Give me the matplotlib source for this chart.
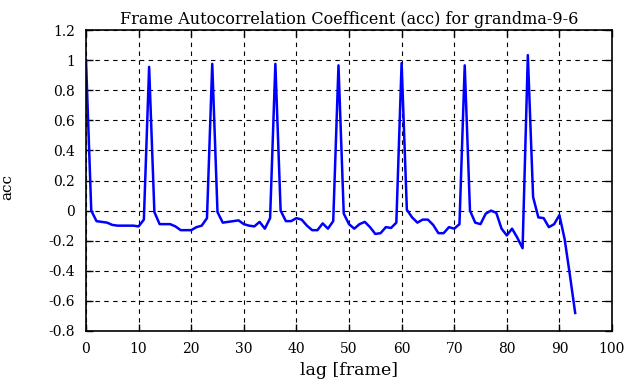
import matplotlib
matplotlib.use("Agg")
import matplotlib.pyplot as plt
import numpy as np

lags = list(range(94))
acc = [1.0, 0.0, -0.07, -0.075, -0.08, -0.095, -0.10, -0.10, -0.10, -0.10,
       -0.105, -0.06, 0.955, -0.01, -0.09, -0.09, -0.09, -0.105, -0.13, -0.13,
       -0.13, -0.11, -0.10, -0.05, 0.975, -0.01, -0.08, -0.075, -0.07, -0.065,
       -0.09, -0.10, -0.105, -0.075, -0.12, -0.05, 0.975, 0.0, -0.07, -0.07,
       -0.05, -0.06, -0.10, -0.13, -0.13, -0.085, -0.12, -0.07, 0.965, -0.02,
       -0.09, -0.12, -0.09, -0.075, -0.11, -0.155, -0.15, -0.11, -0.115, -0.08,
       0.98, 0.005, -0.045, -0.08, -0.06, -0.06, -0.095, -0.15, -0.15, -0.11,
       -0.12, -0.09, 0.965, 0.0, -0.08, -0.09, -0.02, 0.0, -0.015, -0.12,
       -0.165, -0.12, -0.18, -0.25, 1.033, 0.09, -0.045, -0.05, -0.11, -0.09,
       -0.03, -0.19, -0.43, -0.68]

xticks = list(range(0, 101, 10))
yticks = [-0.8, -0.6, -0.4, -0.2, 0, 0.2, 0.4, 0.6, 0.8, 1, 1.2]
ytick_labels = ["-0.8", "-0.6", "-0.4", "-0.2", "0", "0.2", "0.4", "0.6", "0.8", "1", "1.2"]

plt.rcParams['font.family'] = ['DejaVu Serif']
plt.rcParams['font.size'] = 10

fig = plt.figure(figsize=(6.3, 3.87), dpi=100)
ax = fig.add_axes([86/630, 1-331/387, (612-86)/630, (331-30)/387])
ax.plot(lags, acc, color='#0000ff', linewidth=1.8)
ax.set_xlim(0, 100)
ax.set_ylim(-0.8, 1.2)
ax.set_xticks(xticks)
ax.set_yticks(yticks)
ax.set_yticklabels(ytick_labels)
ax.grid(True, color='black', linestyle=(0, (4, 4)), linewidth=0.8)
ax.tick_params(direction='in', top=True, right=True, length=5, width=1, labelsize=10)
ax.tick_params(axis='y', pad=8)
ax.tick_params(axis='x', pad=8)
for s in ax.spines.values():
    s.set_linewidth(1.2)
ax.set_xlabel('lag [frame]', fontsize=12.5, labelpad=4)
ax.set_ylabel('acc', fontsize=11)
ax.yaxis.set_label_coords((14-86)/526, 0.48)
ax.set_title('Frame Autocorrelation Coefficent (acc) for grandma-9-6', fontsize=11.5, pad=4)
fig.savefig('out.png', dpi=100)
